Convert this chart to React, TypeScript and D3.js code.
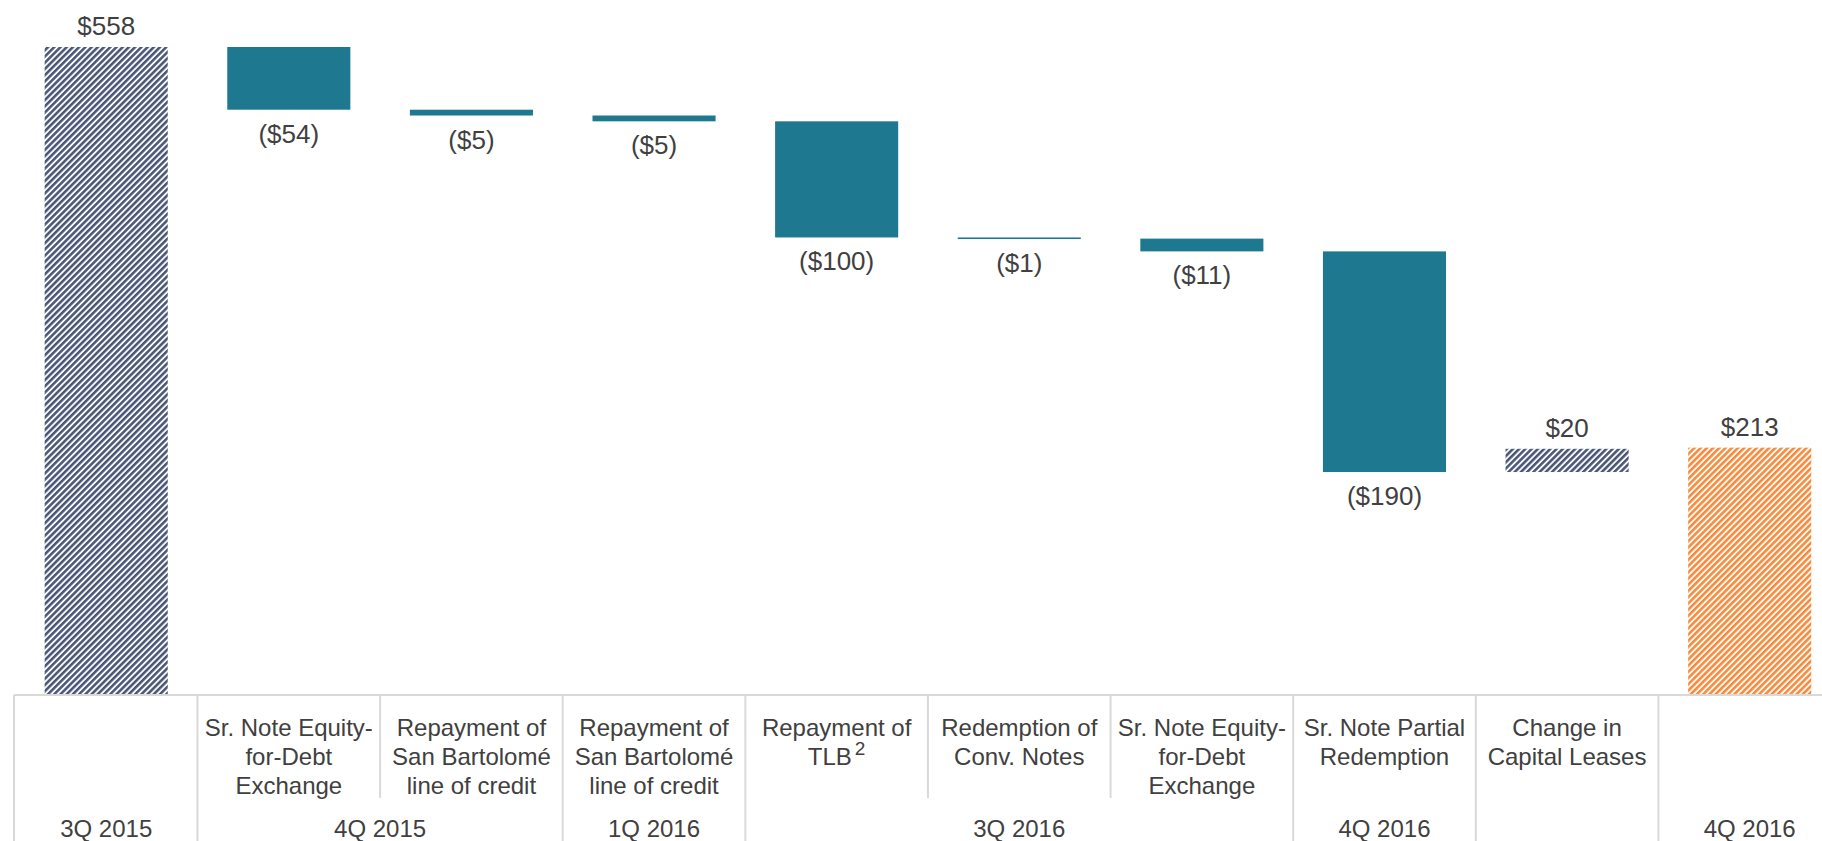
import React from "react";
import * as d3 from "d3";

const W = 1822;
const H = 841;

// Data
const categoryLines: string[][] = [
  [],
  ["Sr. Note Equity-", "for-Debt", "Exchange"],
  ["Repayment of", "San Bartolomé", "line of credit"],
  ["Repayment of", "San Bartolomé", "line of credit"],
  ["Repayment of", "TLB^2"],
  ["Redemption of", "Conv. Notes"],
  ["Sr. Note Equity-", "for-Debt", "Exchange"],
  ["Sr. Note Partial", "Redemption"],
  ["Change in", "Capital Leases"],
  [],
];
const barKinds = ["total", "delta", "delta", "delta", "delta", "delta", "delta", "delta", "delta", "final"];
const values = [558, -54, -5, -5, -100, -1, -11, -190, 20, 213];
const valueLabels = ["$558", "($54)", "($5)", "($5)", "($100)", "($1)", "($11)", "($190)", "$20", "$213"];
const groups = [
  { label: "3Q 2015", from: 0, to: 0 },
  { label: "4Q 2015", from: 1, to: 2 },
  { label: "1Q 2016", from: 3, to: 3 },
  { label: "3Q 2016", from: 4, to: 6 },
  { label: "4Q 2016", from: 7, to: 7 },
  { label: "", from: 8, to: 8 },
  { label: "4Q 2016", from: 9, to: 9 },
];

const TEAL = "#1e7890";
const NAVY = "#4b5575";
const ORANGE = "#f68a3c";
const TEXT = "#404040";
const GRID = "#d9d9d9";
const FONT = "'Liberation Sans', Arial, sans-serif";

export default function App() {
  const idx = values.map((_, i) => i);
  const x = d3
    .scaleBand<number>()
    .domain(idx)
    .range([14.9, 1841])
    .paddingInner(0.326)
    .paddingOuter(0.163);
  const step = x.step();
  const bandStart = (i: number) => (x(i) as number) - x.paddingInner() * step / 2;

  const y = d3.scaleLinear().domain([0, 558]).range([695, 47]);

  let running = 0;
  const bars = values.map((v, i) => {
    const kind = barKinds[i];
    let y0: number, y1: number;
    if (kind === "total" || kind === "final") {
      y0 = 0;
      y1 = v;
      running = v;
    } else {
      y0 = running;
      y1 = running + v;
      running = y1;
    }
    return { i, v, kind, lo: Math.min(y0, y1), hi: Math.max(y0, y1) };
  });

  const tableTop = 695;
  const upperBottom = 798;
  const groupBoundaries = new Set<number>();
  groups.forEach((g) => groupBoundaries.add(g.from));

  return (
    <svg
      width={W}
      height={H}
      style={{ position: "absolute", left: 0, top: 0, display: "block", background: "#fff" }}
    >
      <defs>
        <pattern id="hatchNavy" patternUnits="userSpaceOnUse" width={4.4} height={10} patternTransform="rotate(45)">
          <rect width={4.4} height={10} fill="#f7f8fa" />
          <rect width={2.5} height={10} fill={NAVY} />
        </pattern>
        <pattern id="hatchOrange" patternUnits="userSpaceOnUse" width={4.4} height={10} patternTransform="rotate(45)">
          <rect width={4.4} height={10} fill="#fff8f2" />
          <rect width={2.5} height={10} fill={ORANGE} />
        </pattern>
      </defs>

      {bars.map((b) => {
        const fill =
          b.kind === "final" ? "url(#hatchOrange)" : b.kind === "total" || b.v > 0 ? "url(#hatchNavy)" : TEAL;
        const top = y(b.hi);
        const h = Math.max(y(b.lo) - y(b.hi), 1.6);
        return <rect key={b.i} x={x(b.i)} y={top} width={x.bandwidth()} height={h} fill={fill} />;
      })}

      {bars.map((b) => {
        const cx = (x(b.i) as number) + x.bandwidth() / 2;
        const above = b.v > 0;
        const ty = above ? y(b.hi) - 12 : y(b.lo) + 33;
        return (
          <text
            key={"l" + b.i}
            x={cx}
            y={ty}
            textAnchor="middle"
            fontFamily={FONT}
            fontSize={26}
            fill={TEXT}
          >
            {valueLabels[b.i]}
          </text>
        );
      })}

      {/* table */}
      <line x1={14} x2={W} y1={tableTop} y2={tableTop} stroke={GRID} strokeWidth={2} />
      <line x1={14} x2={14} y1={tableTop} y2={H} stroke={GRID} strokeWidth={2} />
      {idx.slice(1).map((i) => {
        const bx = bandStart(i);
        const full = groupBoundaries.has(i);
        return (
          <line
            key={"d" + i}
            x1={bx}
            x2={bx}
            y1={tableTop}
            y2={full ? H : upperBottom}
            stroke={GRID}
            strokeWidth={2}
          />
        );
      })}

      {categoryLines.map((lines, i) => {
        const cx = (x(i) as number) + x.bandwidth() / 2;
        return lines.map((ln, k) => {
          const ly = 736 + k * 29;
          if (ln.includes("^")) {
            const [base, sup] = ln.split("^");
            return (
              <text key={`c${i}-${k}`} x={cx} y={ly} textAnchor="middle" fontFamily={FONT} fontSize={24} fill={TEXT}>
                {base}
                <tspan fontSize={19} dx={3} dy={-10}>
                  {sup}
                </tspan>
              </text>
            );
          }
          return (
            <text key={`c${i}-${k}`} x={cx} y={ly} textAnchor="middle" fontFamily={FONT} fontSize={24} fill={TEXT}>
              {ln}
            </text>
          );
        });
      })}

      {groups.map((g, k) => {
        const x0 = bandStart(g.from);
        const x1 = bandStart(g.to) + step;
        return (
          <text
            key={"g" + k}
            x={(x0 + x1) / 2}
            y={837}
            textAnchor="middle"
            fontFamily={FONT}
            fontSize={24}
            fill={TEXT}
          >
            {g.label}
          </text>
        );
      })}
    </svg>
  );
}
